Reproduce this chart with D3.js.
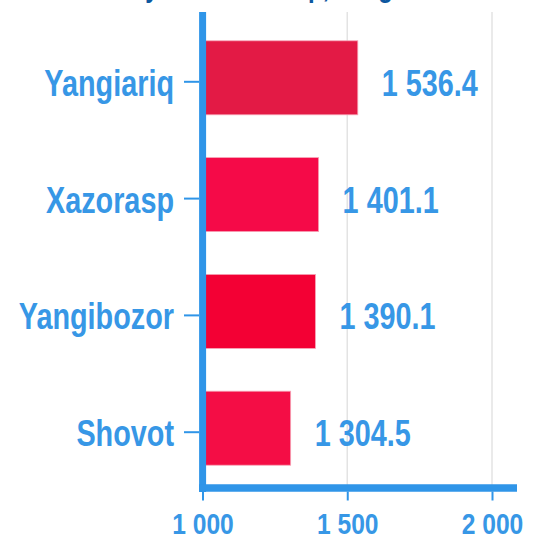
<!DOCTYPE html>
<html>
<head>
<meta charset="utf-8">
<script src="https://cdn.jsdelivr.net/npm/d3@7"></script>
<style>
  html, body { margin: 0; padding: 0; background: #ffffff; }
  svg { display: block; }
  text { font-family: "Liberation Sans", Arial, sans-serif; font-weight: bold; }
</style>
</head>
<body>
<svg id="chart" width="537" height="538"></svg>
<script>
// ---- data ----
const categories = ["Yangiariq", "Xazorasp", "Yangibozor", "Shovot"];
const values = [1536.4, 1401.1, 1390.1, 1304.5];
const xTicks = [1000, 1500, 2000];
const titleText = "Aholi soni by tum Xazorasp, Yangibozor";

// ---- styles ----
const barColors = ["#e31a45", "#f50a48", "#f30034", "#f40d45"];
const axisBlue = "#2f95e8";
const labelBlue = "#3797e6";
const titleBlue = "#0d58a0";

const svg = d3.select("#chart");
const plotTop = 12, plotBottom = 488, axisRight = 517;

const x = d3.scaleLinear().domain([1000, 2000]).range([202.5, 492]);
const y = d3.scaleBand().domain(categories).range([23.4, 490.6]).paddingInner(0).paddingOuter(0);
const barH = 74, barOff = -41;

function fmt(v, dec) {
  const s = dec ? d3.format(".1f")(v) : d3.format("d")(v);
  const parts = s.split(".");
  parts[0] = parts[0].replace(/\B(?=(\d{3})+(?!\d))/g, " ");
  return parts.join(".");
}
function condense(k) {
  return sel => sel.each(function () {
    const len = this.getComputedTextLength();
    d3.select(this).attr("textLength", len * k).attr("lengthAdjust", "spacingAndGlyphs");
  });
}

// title (cut off at top, as in the reference)
svg.append("text")
  .attr("x", 8).attr("y", -3)
  .attr("text-anchor", "start")
  .attr("fill", titleBlue)
  .attr("font-size", 30)
  .text(titleText)
  .call(condense(0.8));

// gridlines
svg.append("g").selectAll("line")
  .data(xTicks.slice(1))
  .join("line")
  .attr("x1", d => x(d)).attr("x2", d => x(d))
  .attr("y1", plotTop).attr("y2", plotBottom)
  .attr("stroke", "#e3e3e3").attr("stroke-width", 1.5);

// bars
svg.append("g").selectAll("rect")
  .data(values)
  .join("rect")
  .attr("x", x(1000))
  .attr("y", (d, i) => y(categories[i]) + y.bandwidth() / 2 + barOff)
  .attr("width", d => x(d) - x(1000))
  .attr("height", barH)
  .attr("fill", (d, i) => barColors[i])
  .attr("stroke", "#f7a3b6").attr("stroke-width", 0.8);

// value labels
svg.append("g").selectAll("text")
  .data(values)
  .join("text")
  .attr("x", d => x(d) + 24)
  .attr("y", (d, i) => y(categories[i]) + y.bandwidth() / 2 + 14)
  .attr("fill", labelBlue)
  .attr("font-size", 36)
  .text(d => fmt(d, true))
  .call(condense(0.8));

// y axis
const yAxis = d3.axisLeft(y).tickSize(15).tickPadding(10).tickFormat(d => d);
const gy = svg.append("g").attr("transform", "translate(199,0)").call(yAxis);
gy.attr("font-family", null).attr("font-size", null);
gy.select(".domain").remove();
gy.selectAll(".tick line").attr("stroke", axisBlue).attr("stroke-width", 2);
gy.selectAll(".tick text")
  .attr("fill", labelBlue).attr("font-size", 36)
  .attr("dy", null).attr("y", 14)
  .call(condense(0.8));

// x axis
const xAxis = d3.axisBottom(x).tickValues(xTicks).tickSize(9).tickPadding(13)
  .tickFormat(d => fmt(d, false));
const gx = svg.append("g").attr("transform", `translate(0,${plotBottom + 3.5})`).call(xAxis);
gx.attr("font-family", null).attr("font-size", null);
gx.select(".domain").remove();
gx.selectAll(".tick line").attr("stroke", axisBlue).attr("stroke-width", 2);
gx.selectAll(".tick text")
  .attr("fill", labelBlue).attr("font-size", 30)
  .attr("dy", null).attr("y", 42)
  .call(condense(0.82));

// thick axis lines
svg.append("line")
  .attr("x1", 202.6).attr("x2", 202.6)
  .attr("y1", plotTop).attr("y2", plotBottom + 4)
  .attr("stroke", axisBlue).attr("stroke-width", 7);
svg.append("line")
  .attr("x1", 199).attr("x2", axisRight)
  .attr("y1", plotBottom).attr("y2", plotBottom)
  .attr("stroke", axisBlue).attr("stroke-width", 7.5);
</script>
</body>
</html>
